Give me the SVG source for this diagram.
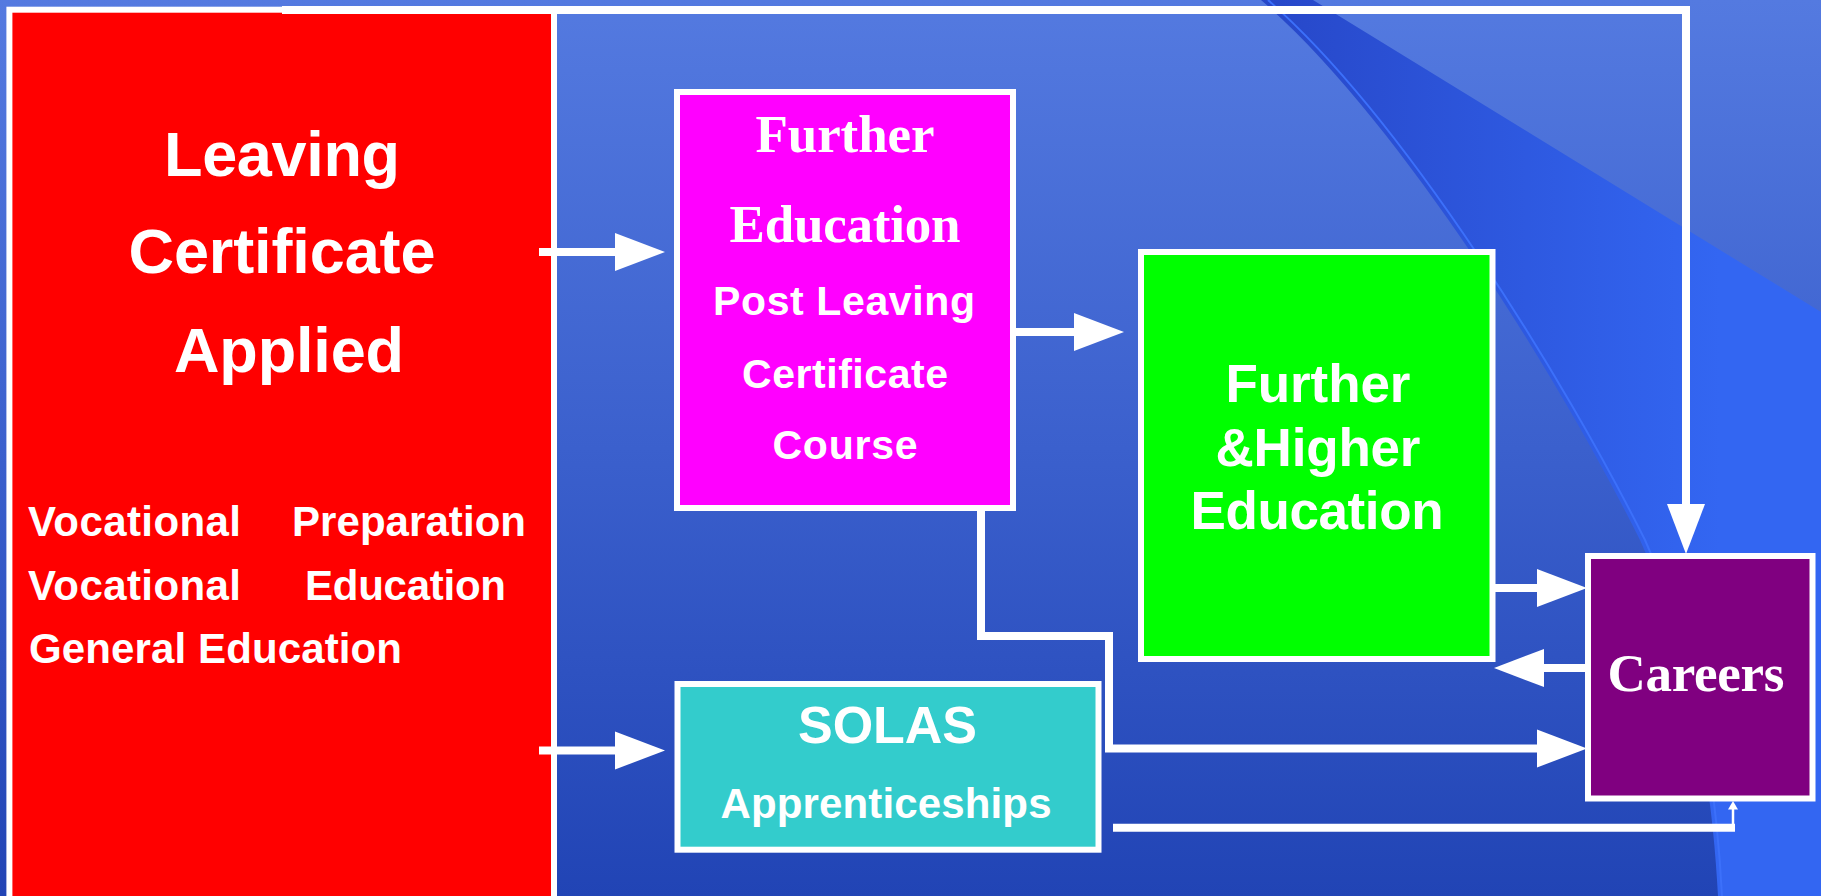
<svg xmlns="http://www.w3.org/2000/svg" width="1821" height="896" viewBox="0 0 1821 896">
<defs>
<linearGradient id="bg" x1="0" y1="0" x2="0" y2="1"><stop offset="0" stop-color="#547AE0"/><stop offset="0.5" stop-color="#3B60CD"/><stop offset="1" stop-color="#2144B5"/></linearGradient>
<linearGradient id="sw" gradientUnits="userSpaceOnUse" x1="1261" y1="0" x2="1720" y2="0"><stop offset="0" stop-color="#2747C8"/><stop offset="1" stop-color="#3366F2"/></linearGradient>
<marker id="ah" markerUnits="userSpaceOnUse" markerWidth="52" markerHeight="40" refX="0" refY="19" orient="auto" overflow="visible"><path d="M0,0 L50,19 L0,38 Z" fill="#fff"/></marker>
</defs>
<style>
.box{stroke:#fff;stroke-width:6}
.con{fill:none;stroke:#fff;stroke-width:8}
.sans{font-family:"Liberation Sans",Arial,sans-serif;font-weight:bold;fill:#fff}
.serif{font-family:"Liberation Serif","Times New Roman",serif;font-weight:bold;fill:#fff}
</style>
<g id="background">
<rect x="0" y="0" width="1821" height="896" fill="url(#bg)"/>
<path d="M1261,0 C1400,120 1560,380 1640,540 C1690,650 1712,780 1718,896 L1821,896 L1821,312 L1313,0 Z" fill="url(#sw)"/>
<path d="M1268,0 C1405,120 1565,380 1645,540 C1695,650 1716,780 1722,896" fill="none" stroke="#3C70FA" stroke-width="2"/>
</g>
<g id="leaving-cert">
<rect class="box" x="9.4" y="9.7" width="544.6" height="900" fill="#FF0000"/>
<text class="sans" x="282" y="176" font-size="63" text-anchor="middle" textLength="236">Leaving</text>
<text class="sans" x="282" y="273" font-size="63" text-anchor="middle" textLength="307">Certificate</text>
<text class="sans" x="289" y="372" font-size="63" text-anchor="middle" textLength="230">Applied</text>
<text class="sans" x="28" y="536" font-size="42" textLength="213">Vocational</text>
<text class="sans" x="292" y="536" font-size="42" textLength="234">Preparation</text>
<text class="sans" x="28" y="600" font-size="42" textLength="213">Vocational</text>
<text class="sans" x="305" y="600" font-size="42" textLength="201">Education</text>
<text class="sans" x="29" y="663" font-size="42" textLength="373">General Education</text>
</g>
<g id="further-education">
<rect class="box" x="677" y="92" width="336" height="416" fill="#FF00FF"/>
<text class="serif" x="845" y="152" font-size="53" text-anchor="middle" textLength="179">Further</text>
<text class="serif" x="845" y="242" font-size="53" text-anchor="middle" textLength="231">Education</text>
<text class="sans" x="844" y="315" font-size="41" text-anchor="middle" textLength="262">Post Leaving</text>
<text class="sans" x="845" y="388" font-size="41" text-anchor="middle" textLength="206">Certificate</text>
<text class="sans" x="845" y="459" font-size="41" text-anchor="middle" textLength="145">Course</text>
</g>
<g id="higher-education">
<rect class="box" x="1141" y="252" width="351.5" height="407" fill="#00FF00"/>
<text class="sans" x="1318" y="402" font-size="53" text-anchor="middle" textLength="185">Further</text>
<text class="sans" x="1318" y="466" font-size="53" text-anchor="middle" textLength="205">&amp;Higher</text>
<text class="sans" x="1317" y="529" font-size="53" text-anchor="middle" textLength="253">Education</text>
</g>
<g id="solas">
<rect class="box" x="677.5" y="684" width="421" height="165.7" fill="#33CCCC"/>
<text class="sans" x="887.5" y="743" font-size="52" text-anchor="middle" textLength="179">SOLAS</text>
<text class="sans" x="886" y="818" font-size="42" text-anchor="middle" textLength="331">Apprenticeships</text>
</g>
<g id="careers">
<rect class="box" x="1588" y="556" width="224.5" height="242.5" fill="#800080"/>
<text class="serif" x="1696" y="691" font-size="53" text-anchor="middle" textLength="177">Careers</text>
</g>
<g id="connectors">
<path class="con" d="M539,252 H615" marker-end="url(#ah)"/>
<path class="con" d="M539,750.5 H615" marker-end="url(#ah)"/>
<path class="con" d="M1016,332 H1074" marker-end="url(#ah)"/>
<path class="con" d="M282,10 H1686 V504" marker-end="url(#ah)"/>
<path class="con" d="M1495,588 H1537" marker-end="url(#ah)"/>
<path class="con" d="M1586,668 H1544" marker-end="url(#ah)"/>
<path class="con" d="M981,511 V636 H1109 V748.5 H1537" marker-end="url(#ah)"/>
<path class="con" d="M1113,827.7 H1735"/>
<path d="M1733,831 V808" fill="none" stroke="#fff" stroke-width="2.5"/>
<polygon points="1728,809.5 1733,801 1738,809.5" fill="#fff"/>
</g>
</svg>
